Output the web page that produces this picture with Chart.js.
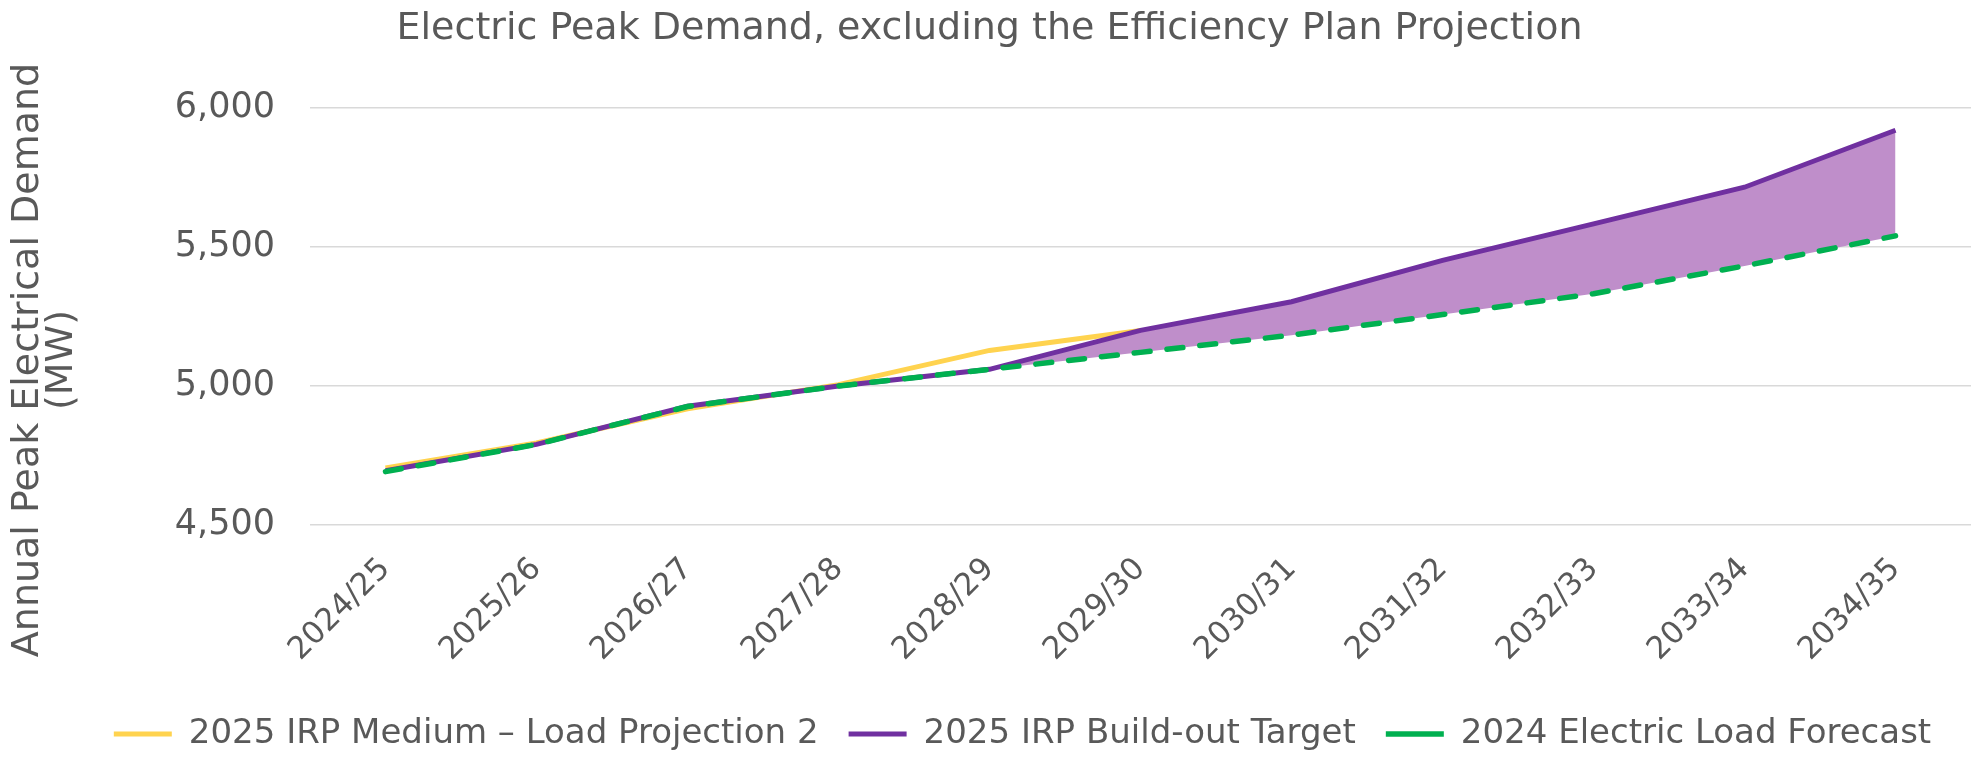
<!DOCTYPE html>
<html>
<head>
<meta charset="utf-8">
<script src="https://cdn.jsdelivr.net/npm/chart.js@4.4.1/dist/chart.umd.min.js"></script>
<style>
  html, body { margin: 0; padding: 0; background: #ffffff; }
  #wrap { width: 1979px; height: 757px; }
</style>
</head>
<body>
<div id="wrap"><canvas id="c" width="1979" height="757"></canvas></div>
<script>
const chartTitle = 'Electric Peak Demand, excluding the Efficiency Plan Projection';
const yAxisTitle = ['Annual Peak Electrical Demand', '(MW)'];
const categories = ['2024/25', '2025/26', '2026/27', '2027/28', '2028/29', '2029/30',
                    '2030/31', '2031/32', '2032/33', '2033/34', '2034/35'];
const seriesNames = ['2025 IRP Medium \u2013 Load Projection 2', '2025 IRP Build-out Target', '2024 Electric Load Forecast'];
const irpMedium = [4705, 4795, 4918, 5005, 5128, 5200, null, null, null, null, null];
const buildOut = [4695, 4790, 4927, 5000, 5060, 5200, 5303, 5452, 5583, 5715, 5920];
const forecast2024 = [4692, 4790, 4926, 5000, 5060, 5121, 5183, 5257, 5332, 5432, 5540];
const yTicks = [4500, 5000, 5500, 6000];

const TEXT = '#595959';
const FONT = 'DejaVu Sans';

const textPlugin = {
  id: 'extraText',
  afterDraw(chart) {
    const ctx = chart.ctx;
    ctx.save();
    ctx.fillStyle = TEXT;
    ctx.textAlign = 'center';
    ctx.textBaseline = 'middle';
    ctx.font = '38px "' + FONT + '"';
    ctx.fillText(chartTitle, chart.width / 2, 29);
    ctx.translate(0, 360);
    ctx.rotate(-Math.PI / 2);
    ctx.fillText(yAxisTitle[0], 0, 28);
    ctx.fillText(yAxisTitle[1], 0, 62);
    ctx.restore();
  }
};

new Chart(document.getElementById('c'), {
  type: 'line',
  data: {
    labels: categories,
    datasets: [
      {
        label: seriesNames[0],
        data: irpMedium,
        borderColor: '#FFD34F',
        backgroundColor: '#FFD34F',
        borderWidth: 5,
        pointRadius: 0,
        tension: 0,
        fill: false,
        order: 2
      },
      {
        label: seriesNames[1],
        data: buildOut,
        borderColor: '#7030A0',
        backgroundColor: 'rgb(191,142,202)',
        borderWidth: 5,
        pointRadius: 0,
        tension: 0,
        fill: '+1',
        order: 1
      },
      {
        label: seriesNames[2],
        data: forecast2024,
        borderColor: '#00B050',
        backgroundColor: '#00B050',
        borderWidth: 5.5,
        borderDash: [16, 17],
        borderCapStyle: 'round',
        pointRadius: 0,
        tension: 0,
        fill: false,
        order: 0
      }
    ]
  },
  options: {
    responsive: false,
    animation: false,
    devicePixelRatio: 1,
    layout: { padding: { left: 74, right: 8, top: 108, bottom: -4 } },
    plugins: {
      title: { display: false },
      legend: {
        position: 'bottom',
        labels: {
          color: TEXT,
          font: { family: FONT, size: 34 },
          usePointStyle: true,
          pointStyle: 'line',
          pointStyleWidth: 58,
          padding: 30,
          sort: (a, b) => a.datasetIndex - b.datasetIndex
        }
      },
      tooltip: { enabled: false }
    },
    scales: {
      x: {
        type: 'category',
        offset: true,
        grid: { display: false },
        border: { display: false },
        ticks: {
          color: TEXT,
          font: { family: FONT, size: 31 },
          maxRotation: 45,
          minRotation: 45,
          padding: 18
        },
        afterFit(scale) { scale.height = 162; }
      },
      y: {
        min: 4500,
        max: 6000,
        afterBuildTicks(scale) { scale.ticks = yTicks.map(v => ({ value: v })); },
        grid: { color: '#D9D9D9', lineWidth: 1.5, drawTicks: false },
        border: { display: false },
        ticks: {
          color: TEXT,
          font: { family: FONT, size: 35 },
          padding: 35
        },
        afterFit(scale) { scale.width = 236; }
      }
    }
  },
  plugins: [textPlugin]
});
</script>
</body>
</html>
